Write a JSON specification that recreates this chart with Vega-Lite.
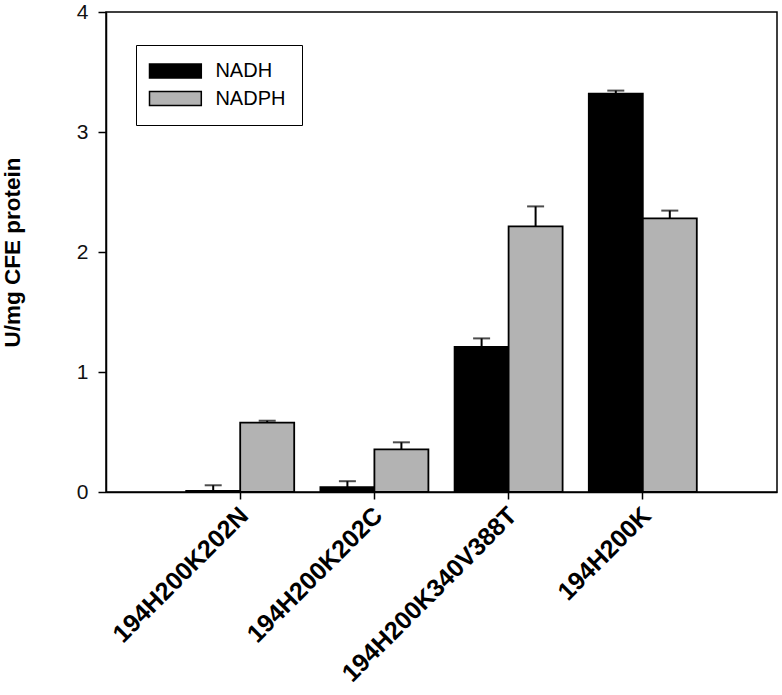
{
  "$schema": "https://vega.github.io/schema/vega-lite/v6.json",
  "width": 671,
  "height": 480,
  "autosize": {"type": "none"},
  "padding": {"left": 106, "top": 12, "right": 5, "bottom": 203},
  "background": "white",
  "config": {
    "font": "Liberation Sans",
    "view": {"stroke": "black", "strokeWidth": 1.5},
    "axis": {"grid": false, "domainColor": "black", "domainWidth": 1.5, "tickColor": "black", "tickWidth": 1.5, "labelColor": "#111", "titleColor": "#111"}
  },
  "data": {
    "values": [
      {"strain": "194H200K202N", "cofactor": "NADH", "value": 0.01, "upper": 0.056},
      {"strain": "194H200K202N", "cofactor": "NADPH", "value": 0.578, "upper": 0.594},
      {"strain": "194H200K202C", "cofactor": "NADH", "value": 0.04, "upper": 0.09},
      {"strain": "194H200K202C", "cofactor": "NADPH", "value": 0.356, "upper": 0.414},
      {"strain": "194H200K340V388T", "cofactor": "NADH", "value": 1.21, "upper": 1.28},
      {"strain": "194H200K340V388T", "cofactor": "NADPH", "value": 2.214, "upper": 2.38},
      {"strain": "194H200K", "cofactor": "NADH", "value": 3.32, "upper": 3.345},
      {"strain": "194H200K", "cofactor": "NADPH", "value": 2.28, "upper": 2.345}
    ]
  },
  "encoding": {
    "x": {
      "field": "strain", "type": "nominal",
      "sort": ["194H200K202N", "194H200K202C", "194H200K340V388T", "194H200K"],
      "scale": {"paddingInner": 0, "paddingOuter": 0.5},
      "axis": {"title": null, "labelAngle": -45, "labelAlign": "right", "labelBaseline": "middle", "labelFontSize": 25, "labelFontWeight": "bold", "labelPadding": 12, "labelOffset": 4, "labelLimit": 0, "tickSize": 7, "labelColor": "black"}
    },
    "xOffset": {
      "field": "cofactor", "type": "nominal",
      "sort": ["NADH", "NADPH"],
      "scale": {"paddingInner": 0, "paddingOuter": 0.2426}
    }
  },
  "layer": [
    {
      "mark": {"type": "bar", "stroke": "black", "strokeWidth": 1.8},
      "encoding": {
        "y": {
          "field": "value", "type": "quantitative",
          "scale": {"domain": [0, 4], "nice": false},
          "axis": {"title": "U/mg CFE protein", "values": [0, 1, 2, 3, 4], "format": "d", "tickSize": 8, "labelPadding": 10, "labelFontSize": 21, "titleFontSize": 22.5, "titleFontWeight": "bold", "titlePadding": 52, "titleColor": "black"}
        },
        "color": {
          "field": "cofactor", "type": "nominal",
          "scale": {"domain": ["NADH", "NADPH"], "range": ["black", "#b3b3b3"]},
          "legend": {
            "title": null,
            "orient": "none",
            "legendX": 30,
            "legendY": 33,
            "strokeColor": "black",
            "padding": 16,
            "symbolType": "M-3.7,-1H3.7V1H-3.7Z",
            "symbolSize": 196,
            "symbolStrokeColor": "black",
            "symbolStrokeWidth": 1.5,
            "symbolOpacity": 1,
            "symbolOffset": 13.4,
            "labelOffset": 30,
            "labelFontSize": 20,
            "labelColor": "black",
            "rowPadding": 7.5
          }
        }
      }
    },
    {
      "mark": {"type": "rule", "color": "black", "strokeWidth": 2},
      "encoding": {
        "y": {"field": "value", "type": "quantitative"},
        "y2": {"field": "upper"}
      }
    },
    {
      "mark": {"type": "tick", "color": "black", "thickness": 2, "size": 17},
      "encoding": {
        "y": {"field": "upper", "type": "quantitative"}
      }
    }
  ]
}
